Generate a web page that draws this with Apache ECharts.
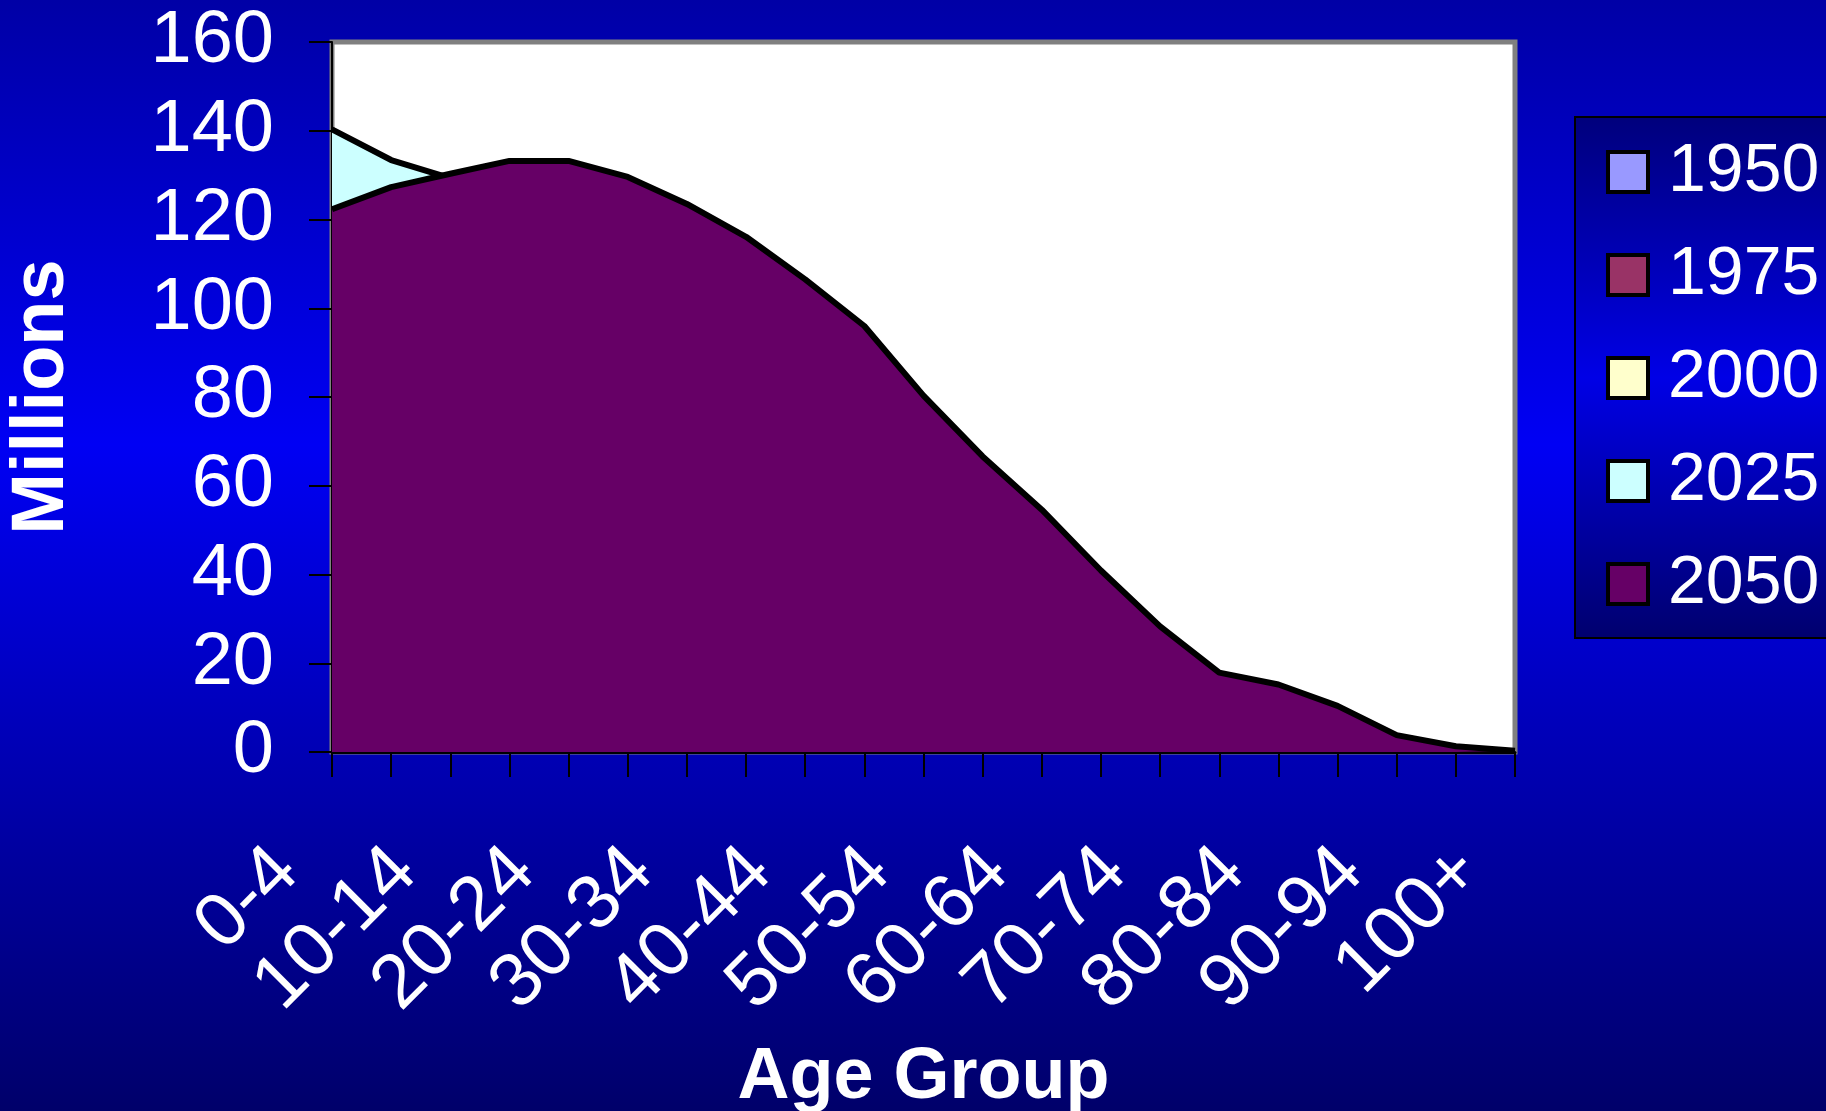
<!DOCTYPE html>
<html>
<head>
<meta charset="utf-8">
<script src="https://cdn.jsdelivr.net/npm/echarts@6/dist/echarts.min.js"></script>
<style>
html,body{margin:0;padding:0;width:1826px;height:1111px;overflow:hidden;}
#c{width:1826px;height:1111px;}
</style>
</head>
<body>
<div id="c"></div>
<script>
const ageGroups = ['0-4','5-9','10-14','15-19','20-24','25-29','30-34','35-39','40-44','45-49','50-54','55-59','60-64','65-69','70-74','75-79','80-84','85-89','90-94','95-99','100+'];
const yTicks = [0,20,40,60,80,100,120,140,160];
// Series hidden behind 2050 cannot be read from the picture
const s1950 = [];
const s1975 = [];
const s2000 = [];
// Only the visible part of 2025 is readable
const s2025 = [140.3, 133.4, 129.3];
const s2050 = [122.3, 127.3, 130.3, 133.2, 133.2, 129.6, 123.5, 116.1, 106.5, 96.0, 80.3, 66.6, 54.6, 40.9, 28.3, 17.9, 15.2, 10.4, 3.8, 1.3, 0.3];
const seriesNames = ['1950','1975','2000','2025','2050'];
const seriesColors = ['#9999FF','#993366','#FFFFCC','#CCFFFF','#660066'];
const seriesData = [s1950, s1975, s2000, s2025, s2050];

const chart = echarts.init(document.getElementById('c'), null, {renderer:'canvas'});
const font = '"Liberation Sans", Arial, sans-serif';

chart.setOption({
  backgroundColor: {
    type:'linear', x:0, y:0, x2:0, y2:1,
    colorStops:[{offset:0,color:'#0000A6'},{offset:0.4,color:'#0000F4'},{offset:1,color:'#00006A'}]
  },
  animation:false,
  graphic:[{
    type:'rect', z:-1, silent:true,
    shape:{x:1575, y:117, width:270, height:521},
    style:{
      fill:{type:'linear', x:0, y:0, x2:0, y2:1,
        colorStops:[{offset:0,color:'#00007C'},{offset:0.5,color:'#0000E6'},{offset:1,color:'#00006E'}]},
      stroke:'#000000', lineWidth:2
    }
  }],
  grid:{left:332, right:311, top:42, bottom:359, show:true, backgroundColor:'#FFFFFF', borderColor:'#808080', borderWidth:5, containLabel:false, outerBoundsMode:'none'},
  legend:{
    orient:'vertical', left:1601, top:133,
    itemWidth:40, itemHeight:40, itemGap:35,
    icon:'rect',
    data: seriesNames,
    itemStyle:{borderColor:'#000000', borderWidth:4},
    textStyle:{color:'#FFFFFF', fontSize:68, fontFamily:font, lineHeight:66, padding:[0,0,0,15]}
  },
  xAxis:{
    type:'category', data:ageGroups, boundaryGap:false,
    name:'Age Group', nameLocation:'middle', nameGap:290,
    nameTextStyle:{color:'#FFFFFF', fontSize:72, fontWeight:'bold', fontFamily:font},
    axisLine:{show:true, lineStyle:{color:'#000000', width:3}},
    axisTick:{show:true, interval:0, length:25, lineStyle:{color:'#000000', width:2}},
    axisLabel:{interval:1, rotate:45, margin:63, padding:[0,64,0,0], color:'#FFFFFF', fontSize:76, fontFamily:font},
    splitLine:{show:false}
  },
  yAxis:{
    type:'value', min:0, max:160, interval:20,
    name:'Millions', nameLocation:'middle', nameGap:252, nameRotate:90,
    nameTextStyle:{color:'#FFFFFF', fontSize:74, fontWeight:'bold', fontFamily:font},
    axisLine:{show:true, lineStyle:{color:'#000000', width:2}},
    axisTick:{show:true, length:23, lineStyle:{color:'#000000', width:2}},
    axisLabel:{margin:58, color:'#FFFFFF', fontSize:74, fontFamily:font,
      formatter:function(v){ return yTicks.indexOf(v) >= 0 ? String(v) : ''; }},
    splitLine:{show:false}
  },
  series: seriesNames.map(function(n,i){
    return {
      name:n, type:'line', data:seriesData[i], symbol:'none', smooth:false,
      itemStyle:{color:seriesColors[i]},
      lineStyle:{color:'#000000', width:6},
      areaStyle:{color:seriesColors[i], opacity:1},
      z:2+i
    };
  })
});
</script>
</body>
</html>
